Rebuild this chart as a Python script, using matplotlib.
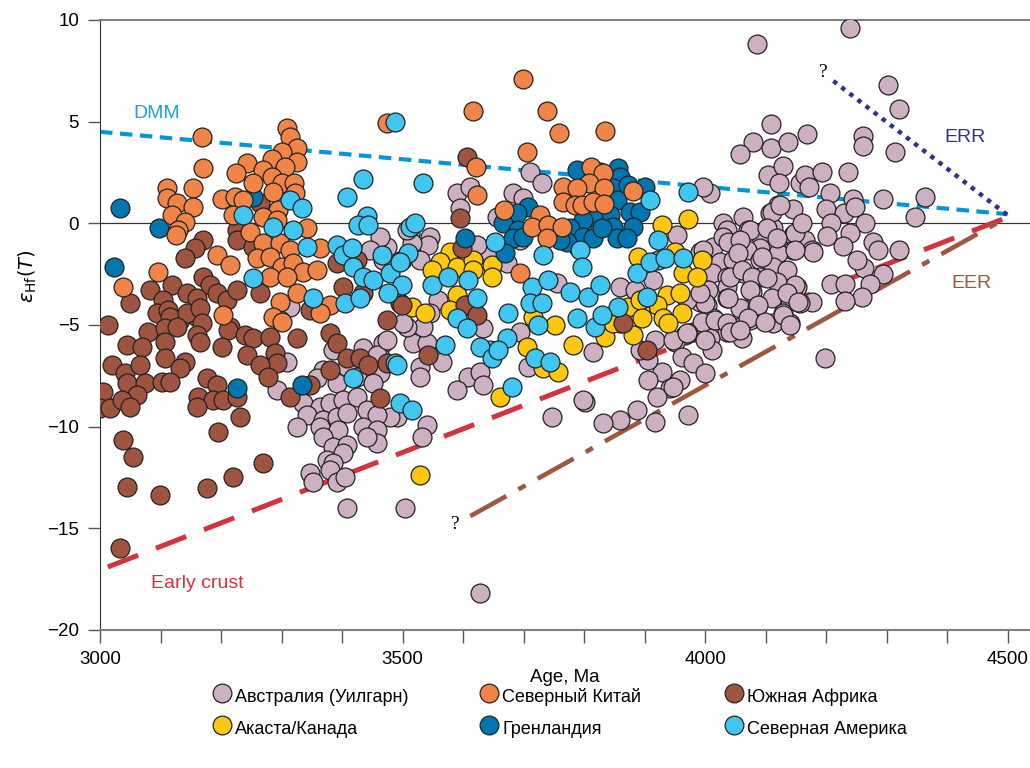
import matplotlib
matplotlib.use("Agg")
import matplotlib.pyplot as plt
from matplotlib.ticker import MultipleLocator
from matplotlib.lines import Line2D

plt.rcParams['font.family'] = ['Liberation Sans', 'DejaVu Sans']

# Австралия (Уилгарн)
aus_age = [4240, 4085, 4303, 4321, 4109, 4080, 4109, 4137, 4169, 4058, 4261, 4261, 4314, 4104, 4129,
           4122, 4157, 4165, 4193, 4236, 4172, 4207, 4245, 4294, 4364, 4008, 3997, 4121, 4107, 4146,
           4200, 4230, 4247, 4063, 4347, 4264, 4277, 4286, 4321, 4262, 4294, 4273, 4260, 4208, 4201,
           4240, 4228, 4251, 4208, 4231, 4232,
           4030, 4036, 4071, 4091, 4112, 4146, 4165, 4177, 4146, 4121, 4091, 4069, 4046, 4013, 3992,
           4025, 4046, 4091, 4112, 4136, 4012, 4036, 4063, 4091, 4119, 4152, 4003, 4036, 4078, 4111,
           4141, 4177, 4157, 3992, 4003, 4036, 4058, 4086, 4129, 4141, 4112, 4074, 4058, 4036, 4013,
           3997, 4008, 4061, 4012, 3980, 3967, 3950, 3917, 3962, 3980, 4000, 3929, 3959, 3942, 3906,
           3921, 3888, 3860, 3831, 3917, 3972, 3802, 3815, 3860, 3954, 4198,
           4111, 4124, 4074, 4102, 4149, 4160, 4179, 4030, 4038, 4058, 4119, 4149, 3997, 4055, 4094,
           4041, 4061, 4078, 4102, 4149, 4005, 4074, 4136, 4154, 4000, 4038, 4088, 4129, 3995, 4017,
           4036, 4071, 4099, 4141, 4041, 4058, 3972, 3970,
           3468, 3517, 3541, 3565, 3529, 3529, 3463, 3463, 3491, 3479, 3541, 3532, 3608, 3590, 3628,
           3633, 3707, 3798, 3747, 3947, 3906, 4000, 3504, 3628,
           3314, 3309, 3385, 3435, 3458, 3408, 3369, 3359, 3392, 3425, 3451, 3293, 3336, 3364, 3380,
           3402, 3425, 3441, 3458, 3342, 3369, 3392, 3408, 3326, 3364, 3393, 3435, 3458, 3369, 3385,
           3408, 3458, 3375, 3402, 3385, 3380, 3347, 3352, 3392, 3405, 3408, 3441, 3298,
           3711, 3731, 3590, 3612, 3595, 3683, 3699, 3656, 3694, 3545, 3512, 3542, 3516, 3474, 3468,
           3529, 3645, 3673, 3623, 3559, 3545, 3534, 3507, 3474, 3633, 3694, 3755, 3884, 3914, 3947,
           3970, 3992, 3893, 3790, 3798, 3463, 3446, 3507, 3501]
aus_eps = [9.6, 8.8, 6.8, 5.6, 4.9, 4.0, 3.7, 4.0, 4.4, 3.4, 4.3, 3.8, 3.5, 2.4, 2.8,
           2.0, 2.0, 2.4, 2.5, 2.5, 1.8, 1.5, 1.2, 1.2, 1.3, 1.5, 1.8, 0.9, 0.5, 0.7,
           0.7, 0.5, 0.8, 0.3, 0.3, 0.0, -0.9, -1.3, -1.3, -2.2, -2.5, -3.0, -3.6, 0.0, -0.6,
           -0.5, -1.1, -1.8, -3.0, -3.0, -3.8,
           0.0, -0.34, -0.34, -0.59, -0.25, -0.59, -0.84, -1.33, -1.33, -1.48, -1.23, -1.33, -0.98, -1.18, -1.43,
           -1.92, -1.82, -1.82, -2.16, -2.31, -2.46, -2.66, -2.46, -2.66, -2.9, -3.15, -3.3, -3.15, -3.39, -3.69,
           -3.79, -3.89, -3.94, -3.89, -4.03, -3.69, -4.18, -4.13, -4.43, -4.92, -4.92, -4.77, -5.12, -5.36, -4.67,
           -4.92, -5.66, -5.66, -6.25, -5.36, -5.51, -5.85, -5.75, -6.59, -6.89, -7.38, -7.33, -7.72, -8.12, -7.72,
           -8.56, -9.2, -9.69, -9.84, -9.79, -9.44, -8.8, -6.35, -3.15, -0.59, -6.6,
           0.54, 0.89, -0.34, -0.25, -0.49, 0.0, -1.43, -0.69, -0.93, -0.84, -0.74, -1.33, -1.33, -1.48, -1.67,
           -2.66, -2.31, -2.66, -2.7, -3.05, -3.3, -3.3, -3.44, -3.89, -3.94, -3.69, -4.03, -4.53, -4.87, -4.77,
           -4.92, -4.67, -4.87, -5.02, -5.36, -5.26, -5.41, -3.79,
           -5.9, -5.9, -5.9, -6.84, -7.08, -7.57, -6.59, -7.38, -9.54, -9.54, -9.94, -10.53, -7.57, -8.21, -7.33,
           -7.97, -7.08, -8.71, -9.54, -8.07, -6.74, -5.75, -14.0, -18.2,
           -4.13, -6.84, -6.25, -6.15, -6.49, -7.08, -7.23, -7.62, -7.87, -7.57, -7.87, -8.21, -8.85, -9.05, -8.85,
           -8.71, -8.56, -9.2, -9.44, -9.44, -9.69, -9.54, -9.35, -10.03, -10.03, -10.18, -10.03, -10.18, -10.53, -11.02,
           -10.92, -10.82, -11.66, -11.31, -11.8, -12.15, -12.3, -12.74, -12.74, -12.49, -14.02, -10.53, -4.77,
           2.5, 2.0, 1.48, 1.77, 0.74, 1.48, 1.23, 0.3, -0.84, -0.69, -0.49, -1.08, -0.98, -1.18, -1.82,
           -1.82, -1.48, -1.97, -1.08, -3.79, -4.43, -5.12, -5.12, -5.75, -5.16, -5.36, -2.95, -3.3, -2.8, -5.75,
           -5.4, -3.44, -6.25, -1.18, -0.49, -0.69, -1.33, -0.34, -4.92]

# Акаста/Канада
aca_age = [3579, 3562, 3549, 3590, 3617, 3617, 3648, 3648, 3590, 3579, 3516, 3537, 3607, 3752, 3716,
           3706, 3782, 3929, 3972, 3889, 3950, 3995, 3964, 3987, 3937, 3959, 3921, 3893, 3873, 3860,
           3835, 3881, 3931, 3962, 3939, 3529, 3661, 3732, 3757, 3893, 3896, 3848]
aca_eps = [-1.43, -1.92, -2.31, -2.16, -1.82, -2.31, -2.07, -2.66, -3.54, -4.28, -4.13, -4.43, -4.03, -5.02, -4.62,
           -6.1, -6.0, -0.1, 0.2, -1.67, -1.43, -1.82, -2.46, -2.66, -3.54, -3.44, -4.03, -4.28, -4.13, -4.92,
           -5.61, -5.51, -4.67, -4.43, -4.92, -12.4, -8.56, -7.13, -7.33, -3.79, -4.67, -4.92]

# Южная Африка
saf_age = [3264, 3170, 3157, 3141, 3226, 3226, 3253, 3170, 3182, 3193, 3210, 3226, 3083, 3050, 3119,
           3144, 3160, 3104, 3094, 3112, 3132, 3160, 3392, 3425, 3402, 3435, 3496, 3474, 3347, 3013,
           3264, 3215, 3116, 3144, 3165, 3079, 3107, 3127, 3169, 3160, 3212, 3240, 3253, 3281, 3165,
           3045, 3069, 3107, 3202, 3243, 3289, 3293, 3326, 3020, 3041, 3066, 3107, 3141, 3132, 3264,
           3380, 3392, 3408, 3380, 3430, 3443, 3474, 3463, 3278, 3045, 3074, 3102, 3116, 3061, 3005,
           3000, 3017, 3036, 3050, 3177, 3193, 3162, 3187, 3203, 3226, 3160, 3231, 3195, 3314, 3347,
           3038, 3055, 3045, 3099, 3177, 3220, 3269, 3033, 3607, 3595, 3598, 3499, 3603, 3623, 3865,
           3542, 3904]
saf_eps = [0.98, -0.84, -1.23, -1.72, -0.34, -0.84, -1.18, -2.66, -3.05, -3.44, -3.79, -3.3, -3.3, -3.94, -3.05,
           -3.44, -3.69, -3.79, -4.43, -4.28, -4.77, -4.62, -1.97, -1.82, -3.15, -3.44, -3.94, -4.77, -4.28, -5.02,
           -3.44, -5.12, -4.62, -4.43, -4.18, -5.36, -5.16, -5.12, -4.92, -5.51, -5.26, -5.51, -5.66, -5.61, -5.85,
           -6.0, -6.1, -5.85, -6.1, -6.49, -6.39, -6.89, -5.66, -6.98, -7.38, -6.98, -6.64, -6.84, -7.13, -6.98,
           -5.41, -5.9, -6.64, -7.23, -6.64, -6.98, -6.89, -8.61, -7.57, -7.87, -7.87, -7.82, -7.82, -8.46, -8.31,
           -9.1, -9.1, -8.71, -9.05, -7.62, -7.97, -8.56, -8.71, -8.71, -8.56, -9.05, -9.54, -10.28, -8.56, -7.97,
           -10.67, -11.5, -12.99, -13.38, -13.03, -12.49, -11.8, -15.99, 3.25, 0.25, -1.23, -4.03, -4.03, -4.53, -4.92,
           -6.49, -6.25]

# Гренландия
grl_age = [3033, 3098, 3023, 3253, 3226, 3334, 3788, 3856, 3860, 3848, 3873, 3901, 3855, 3876, 3893,
           3843, 3815, 3798, 3777, 3798, 3815, 3848, 3881, 3855, 3871, 3772, 3707, 3689, 3666, 3691,
           3683, 3699, 3603, 3669, 3830, 3760, 3826]
grl_eps = [0.74, -0.25, -2.16, 1.28, -8.12, -7.97, 2.61, 2.7, 2.26, 1.72, 1.87, 1.77, 1.13, 0.54, 0.54,
           0.39, 0.3, 0.15, -0.25, -0.69, -0.74, -0.2, -0.2, -0.74, -0.74, -0.93, 0.79, 0.49, 0.0, -0.34,
           -0.74, -0.69, -0.74, -1.48, -0.25, -0.84, 2.5]

# Северный Китай
nch_age = [3169, 3170, 3111, 3111, 3127, 3154, 3154, 3119, 3141, 3129, 3126, 3309, 3314, 3326, 3301,
           3284, 3326, 3243, 3269, 3306, 3225, 3253, 3284, 3301, 3321, 3286, 3322, 3202, 3223, 3236,
           3294, 3220, 3269, 3293, 3342, 3248, 3269, 3298, 3314, 3193, 3364, 3260, 3281, 3215, 3301,
           3319, 3336, 3359, 3281, 3309, 3096, 3038, 3326, 3298, 3380, 3364, 3203, 3286, 3301, 3474,
           3699, 3617, 3739, 3759, 3835, 3706, 3622, 3623, 3812, 3831, 3808, 3765, 3788, 3833, 3765,
           3785, 3797, 3815, 3833, 3881, 3668, 3727, 3714, 3741, 3764, 3739, 3694]
nch_eps = [4.23, 2.7, 1.72, 1.23, 0.98, 1.72, 0.79, 0.39, 0.05, -0.34, -0.59, 4.67, 4.23, 3.69, 3.49,
           3.15, 3.0, 2.95, 2.6, 2.75, 2.46, 2.0, 2.26, 1.97, 1.97, 1.52, 1.48, 1.18, 1.28, 1.13,
           0.64, 0.39, 0.3, 0.15, -0.25, -0.44, -0.98, -0.98, -1.33, -1.57, -1.23, -1.72, -1.67, -2.07, -2.16,
           -1.97, -2.41, -2.31, -2.66, -2.66, -2.41, -3.15, -3.44, -3.89, -4.03, -4.43, -4.53, -4.62, -4.87, 4.92,
           7.08, 5.5, 5.5, 4.43, 4.53, 3.49, 2.75, 1.38, 2.75, 2.46, 2.0, 1.77, 1.72, 1.72, 1.03,
           0.89, 0.89, 1.03, 0.93, 1.57, 0.64, 0.39, -0.2, -0.1, -0.2, -0.74, -2.46]

# Северная Америка
nam_age = [3488, 3435, 3408, 3441, 3426, 3443, 3314, 3334, 3236, 3286, 3319, 3342, 3253, 3352, 3405,
           3430, 3392, 3402, 3417, 3418, 3435, 3451, 3466, 3479, 3499, 3499, 3476, 3512, 3509, 3488,
           3418, 3496, 3534, 3521, 3496, 3549, 3575, 3608, 3623, 3590, 3607, 3570, 3653, 3732, 3714,
           3741, 3711, 3731, 3674, 3724, 3673, 3645, 3628, 3777, 3807, 3827, 3856, 3788, 3818, 3793,
           3797, 3909, 3972, 3888, 3904, 3922, 3909, 3934, 3964, 3648, 3658, 3719, 3744, 3681, 3491,
           3516, 3922, 3830]
nam_eps = [4.97, 2.16, 1.28, 0.34, -0.1, -0.1, 1.13, 0.74, 0.39, -0.2, -0.34, -1.18, -2.7, -3.69, -3.94,
           -3.69, -1.08, -1.57, -1.23, -2.16, -2.66, -2.8, -1.57, -2.46, -1.82, -3.05, -3.44, -0.2, -1.48, -6.89,
           -7.62, -8.85, 1.97, 0.0, -1.92, -3.05, -2.66, -2.8, -3.69, -4.67, -5.16, -6.0, -0.93, -1.57, -3.15,
           -2.8, -3.94, -3.94, -4.43, -5.02, -5.66, -6.25, -6.1, -3.39, -3.64, -3.05, -4.13, -4.67, -5.12, -1.33,
           -2.16, 1.13, 1.52, -2.46, -3.64, -1.82, -1.92, -1.72, -1.72, -6.64, -6.25, -6.64, -6.84, -8.07, -6.98,
           -9.2, -0.84, -4.53]

# evolution lines
dmm_age = [3000, 4500]
dmm_eps = [4.5, 0.45]
err_age = [4212, 4500]
err_eps = [7.0, 0.4]
early_age = [3013, 4500]
early_eps = [-16.9, 0.3]
eer_age = [3612, 4500]
eer_eps = [-14.4, 0.3]

series = [
    ("Австралия (Уилгарн)", aus_age, aus_eps, "#cdb0c2"),
    ("Акаста/Канада", aca_age, aca_eps, "#fdc80f"),
    ("Южная Африка", saf_age, saf_eps, "#9f5440"),
    ("Гренландия", grl_age, grl_eps, "#0076ae"),
    ("Северный Китай", nch_age, nch_eps, "#f18447"),
    ("Северная Америка", nam_age, nam_eps, "#40c6f0"),
]

fig = plt.figure(figsize=(10.3, 7.68), dpi=100)
ax = fig.add_axes([0.0971, 0.1797, 0.9029, 0.7943])

ax.axhline(0, color="#333333", lw=0.9, zorder=1)

ax.plot(dmm_age, dmm_eps, color="#0096d8", lw=3.0, dashes=(3, 1.8), zorder=2)
ax.plot(err_age, err_eps, color="#2e3192", lw=3.2, dashes=(1, 1.3), zorder=2)
ax.plot(early_age, early_eps, color="#d2343f", lw=3.6, dashes=(6.5, 3.8), zorder=2)
ax.plot(eer_age, eer_eps, color="#a0573f", lw=3.3, dashes=(9, 3, 1.8, 3), zorder=2)

for name, xs, ys, col in series:
    ax.scatter(xs, ys, s=185, c=col, edgecolors="#222222", linewidths=0.9, zorder=3)

ax.text(3094, 5.4, "DMM", color="#1ba1dc", fontsize=14, ha="center", va="center")
ax.text(4430, 4.2, "ERR", color="#2e3192", fontsize=14, ha="center", va="center")
ax.text(4441, -2.95, "EER", color="#a0573f", fontsize=14, ha="center", va="center")
ax.text(3160, -17.7, "Early crust", color="#d2343f", fontsize=14, ha="center", va="center")
ax.text(4195, 7.4, "?", fontsize=14, family="Liberation Serif", ha="center", va="center")
ax.text(3587, -14.8, "?", fontsize=14, family="Liberation Serif", ha="center", va="center")

ax.set_xlim(3000, 4537)
ax.set_ylim(-20, 10)
ax.xaxis.set_major_locator(MultipleLocator(500))
ax.xaxis.set_minor_locator(MultipleLocator(100))
ax.yaxis.set_major_locator(MultipleLocator(5))
ax.tick_params(axis="both", which="both", direction="out", length=9, width=1.0,
               color="#555555", labelsize=13.5, pad=6)

ax.spines["right"].set_visible(False)
ax.spines["top"].set_color("#808080")
ax.spines["top"].set_linewidth(1.5)
ax.spines["bottom"].set_color("#808080")
ax.spines["bottom"].set_linewidth(1.5)
ax.spines["left"].set_color("#333333")

ax.set_xlabel("Age, Ma", fontsize=13.5, labelpad=1)
ax.set_ylabel(r"$\varepsilon_{\mathrm{Hf}}(T)$", fontsize=14)
ax.yaxis.set_label_coords(-0.066, 0.58)

# legend: three columns of two entries, each placed on its own
# (tall handleheight keeps every row the same height)
columns = [(0, 1), (4, 3), (2, 5)]
col_left = [0.196, 0.455, 0.693]
for (top_i, bot_i), x0 in zip(columns, col_left):
    hs = [Line2D([], [], ls="", marker="o", markersize=13.5, markerfacecolor=series[i][3],
                 markeredgecolor="#222222", markeredgewidth=0.9) for i in (top_i, bot_i)]
    fig.legend(hs, [series[top_i][0], series[bot_i][0]], loc="center left",
               bbox_to_anchor=(x0, 0.073), frameon=False, fontsize=13, borderpad=0,
               handletextpad=0.15, labelspacing=0.45, handlelength=1.2, handleheight=1.6)

fig.savefig("out.png", dpi=100)
